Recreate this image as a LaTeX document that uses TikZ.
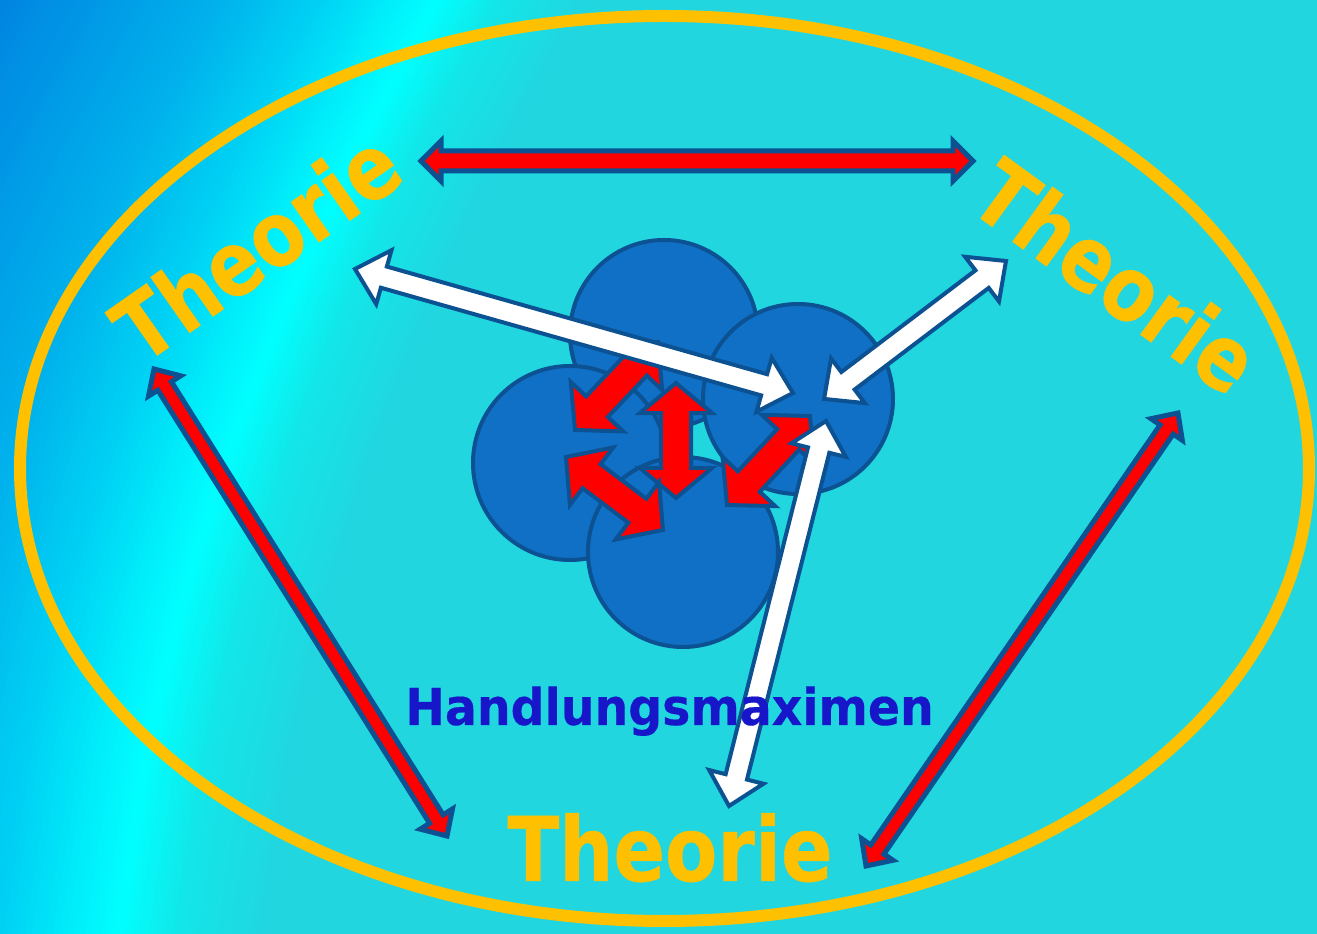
\documentclass[tikz,border=0pt]{standalone}
\usepackage{fontspec}
\newfontfamily\dvs{DejaVu Sans}[BoldFeatures={FakeBold=0.5}]
\newfontfamily\dvsh{DejaVu Sans}[BoldFeatures={FakeBold=0.3}]
\usetikzlibrary{calc}
\definecolor{g0}{HTML}{0080E0}
\definecolor{g1}{HTML}{00B2EC}
\definecolor{g2}{HTML}{00D2F4}
\definecolor{g3}{HTML}{00EEFA}
\definecolor{g4}{HTML}{00FFFF}
\definecolor{g5}{HTML}{12E6E8}
\definecolor{g6}{HTML}{22D6E0}
\definecolor{arrowblue}{HTML}{0C5192}
\definecolor{arrred}{HTML}{FF0000}
\definecolor{bubfill}{HTML}{1070C6}
\definecolor{theoyellow}{HTML}{FFC000}
\definecolor{hmblue}{HTML}{1717C9}

% double-headed block arrow: #1 style, #2 from, #3 to, #4 shaft half width, #5 head half width, #6 head length (px)
\newcommand\blockarr[6]{%
  \path let \p1=(#2), \p2=(#3) in
    \pgfextra{%
      \pgfmathsetmacro\tmpang{atan2(\y2-\y1,\x2-\x1)}\xdef\arang{\tmpang}%
      \pgfmathsetmacro\tmplen{veclen(\x2-\x1,\y2-\y1)/0.28453}\xdef\arlen{\tmplen}%
    };
  \begin{scope}[shift={(#2)},rotate=\arang,x=0.28453pt,y=0.28453pt]
    \draw[#1] (0,0) -- (#6,#5) -- (#6,#4) -- (\arlen-#6,#4) -- (\arlen-#6,#5) -- (\arlen,0)
      -- (\arlen-#6,-#5) -- (\arlen-#6,-#4) -- (#6,-#4) -- (#6,-#5) -- cycle;
  \end{scope}%
}
\newcommand\theotext{\scalebox{0.852}[1]{Theorie}}

\tikzset{
  redouter/.style={fill=arrred, draw=arrowblue, line width=1.42pt, line join=miter},
  redinner/.style={fill=arrred, draw=arrowblue, line width=1.14pt, line join=miter},
  whitearr/.style={fill=white, draw=arrowblue, line width=1.14pt, line join=miter},
  bubble/.style={fill=bubfill, draw=arrowblue, line width=1.14pt},
  theo/.style={text=theoyellow, inner sep=0pt, anchor=base, font=\dvs\bfseries\fontsize{25.4}{30}\selectfont},
  hmstyle/.style={text=hmblue, inner sep=0pt, anchor=base, font=\dvsh\bfseries\fontsize{14.44}{17}\selectfont}
}

\begin{document}
\begin{tikzpicture}[x=0.01cm,y=-0.01cm]
\useasboundingbox (0,0) rectangle (1317,934);
% background gradient (curved bright band)
\begin{scope}
  \clip (0,0) rectangle (1317,934);
  \fill[g6] (-10,-10) rectangle (1327,944);
  \foreach \da/\db/\ca/\cb/\nn in {-460/-215/g0/g1/30, -215/-115/g1/g2/14, -115/-45/g2/g3/10, -45/0/g3/g4/8, 0/60/g4/g5/10, 60/150/g5/g6/14}{
    \foreach \k in {1,...,\nn}{
      \pgfmathsetmacro\dA{\da+(\db-\da)*(\k-1)/\nn}
      \pgfmathsetmacro\dB{\da+(\db-\da)*\k/\nn+1.5}
      \pgfmathtruncatemacro\pp{100-100*(\k-0.5)/\nn}
      \fill[\ca!\pp!\cb] (443.3+\dA,-10) -- (357.2+\dA,150) -- (288.1+\dA,300) -- (230.0+\dA,450) -- (183.0+\dA,600) -- (147.2+\dA,750) -- (117.2+\dA,944)
        -- (117.2+\dB,944) -- (147.2+\dB,750) -- (183.0+\dB,600) -- (230.0+\dB,450) -- (288.1+\dB,300) -- (357.2+\dB,150) -- (443.3+\dB,-10) -- cycle;
    }
  }
\end{scope}

% ellipse
\draw[theoyellow, line width=3.41pt] (664.5,468.5) ellipse [x radius=644.5, y radius=452.5];

% coordinates
\coordinate (h1) at (421,161);
\coordinate (h2) at (973,161);
\coordinate (l1) at (154,369);
\coordinate (l2) at (447,836);
\coordinate (r1) at (1178,413);
\coordinate (r2) at (866,866);

% outer red arrows
\blockarr{redouter}{h1}{h2}{10}{20}{20}
\blockarr{redouter}{l1}{l2}{8}{19}{20}
\blockarr{redouter}{r1}{r2}{8}{19}{20}

% circles
\draw[bubble] (664,334) circle [radius=94];
\draw[bubble] (798,399) circle [radius=95];
\draw[bubble] (570,463) circle [radius=97];
\draw[bubble] (683,552) circle [radius=95];

% central red arrows
\coordinate (v1) at (676,383);
\coordinate (v2) at (676,498);
\coordinate (ul1) at (575,430);
\coordinate (ul2) at (658,342);
\coordinate (ll1) at (566,457);
\coordinate (ll2) at (663,530);
\coordinate (lr1) at (727,505);
\coordinate (lr2) at (810,416);
\blockarr{redinner}{ul1}{ul2}{15}{36}{32}
\blockarr{redinner}{v1}{v2}{15}{36}{30}
\blockarr{redinner}{ll1}{ll2}{15}{36}{32}
\blockarr{redinner}{lr1}{lr2}{15}{36}{32}

% white arrows
\coordinate (w1a) at (355,269);
\coordinate (w1b) at (793,393);
\coordinate (w2a) at (1006,261);
\coordinate (w2b) at (824,399);
\coordinate (w3a) at (826,421);
\coordinate (w3b) at (729,806);
\blockarr{whitearr}{w1a}{w1b}{11}{28}{30}
\blockarr{whitearr}{w2a}{w2b}{11}{28}{30}
\blockarr{whitearr}{w3a}{w3b}{11}{28}{30}

% texts
\node[theo, rotate=35] (tl) at (275,273) {\theotext};
\node[theo, rotate=-36] (tr) at (1097,303) {\theotext};
\node[theo] (bt) at (670,881) {\theotext};
\node[hmstyle] (hm) at (669.5,725) {\scalebox{0.933}[1]{Handlungsmaximen}};
\end{tikzpicture}
\end{document}
